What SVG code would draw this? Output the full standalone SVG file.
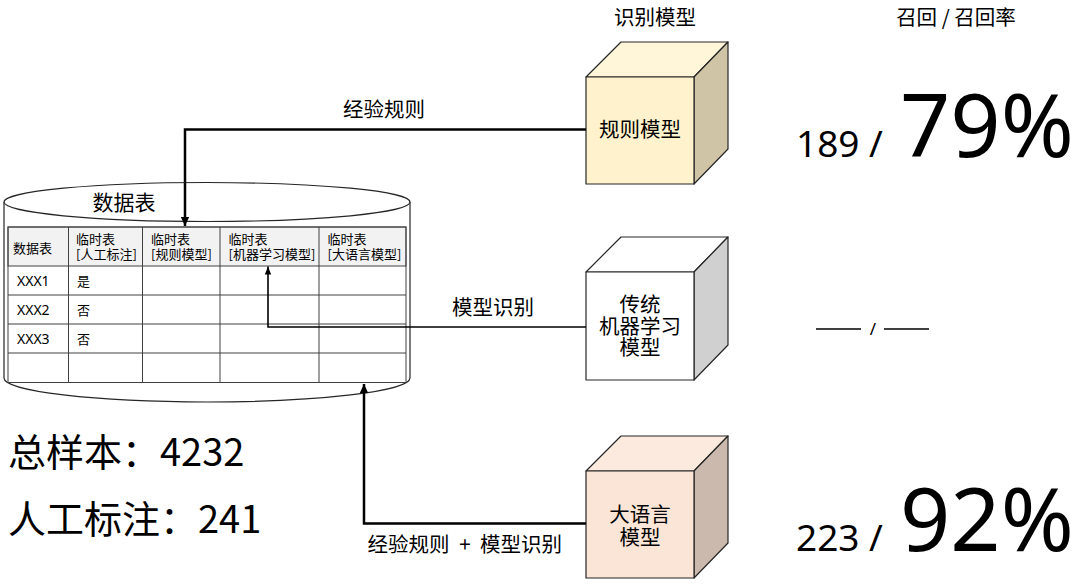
<svg xmlns="http://www.w3.org/2000/svg" width="1080" height="585" viewBox="0 0 1080 585">
<style>
text{font-family:"Noto Sans","Noto Sans CJK SC",sans-serif;fill:#000}
.cjk{font-family:"Noto Sans CJK SC","Noto Sans",sans-serif}
.cell{fill:none;stroke:#404040;stroke-width:1}
.hdr{fill:#F2F2F2;stroke:#404040;stroke-width:1}
.t13{font-size:13px}
.tx{font-size:14px}
.cube{stroke:#262626;stroke-width:1.2;stroke-linejoin:round}
.conn{fill:none;stroke:#000}
.lbl{font-size:20.5px;text-anchor:middle}
.clbl{font-size:20.5px;text-anchor:middle}
</style>
<defs>
<marker id="ah" markerUnits="userSpaceOnUse" markerWidth="10" markerHeight="10" refX="9" refY="5" orient="auto">
<path d="M0,0.8 L9,5 L0,9.2 Z" fill="#000"/>
</marker>
<marker id="ahs" markerUnits="userSpaceOnUse" markerWidth="10" markerHeight="10" refX="8" refY="4" orient="auto">
<path d="M0,0.8 L8,4 L0,7.2 Z" fill="#000"/>
</marker>
</defs>
<rect width="1080" height="585" fill="#fff"/>

<g id="titles">
<text class="lbl cjk" x="655" y="25">识别模型</text>
<text class="lbl cjk" x="956" y="25">召回 / 召回率</text>
</g>

<g id="datatable">
<path d="M4,202 V378 A203,24 0 0 0 410,378 V202" fill="#fff" stroke="#262626" stroke-width="1.2"/>
<ellipse cx="207" cy="202" rx="203" ry="19.5" fill="#fff" stroke="#262626" stroke-width="1.2"/>
<text class="cjk" x="124" y="210" font-size="21" text-anchor="middle">数据表</text>
<rect class="hdr" x="8" y="227" width="398" height="39"/>
<rect class="cell" x="8" y="227" width="398" height="155.5"/>
<line class="cell" x1="8" y1="295" x2="406" y2="295"/>
<line class="cell" x1="8" y1="324" x2="406" y2="324"/>
<line class="cell" x1="8" y1="353" x2="406" y2="353"/>
<line class="cell" x1="68.5" y1="227" x2="68.5" y2="382.5"/>
<line class="cell" x1="142.5" y1="227" x2="142.5" y2="382.5"/>
<line class="cell" x1="220" y1="227" x2="220" y2="382.5"/>
<line class="cell" x1="319" y1="227" x2="319" y2="382.5"/>
<g>
<text class="cjk t13" x="13" y="252.5">数据表</text>
<text class="cjk t13" x="76" y="243.5">临时表</text>
<text class="cjk t13" x="76" y="259">[人工标注]</text>
<text class="cjk t13" x="151" y="243.5">临时表</text>
<text class="cjk t13" x="151" y="259">[规则模型]</text>
<text class="cjk t13" x="228.5" y="243.5">临时表</text>
<text class="cjk t13" x="228.5" y="259">[机器学习模型]</text>
<text class="cjk t13" x="327.5" y="243.5">临时表</text>
<text class="cjk t13" x="327.5" y="259">[大语言模型]</text>
<text class="tx" x="17" y="286">XXX1</text>
<text class="tx" x="17" y="315">XXX2</text>
<text class="tx" x="17" y="344">XXX3</text>
<text class="cjk t13" x="77" y="285.5">是</text>
<text class="cjk t13" x="77" y="314.5">否</text>
<text class="cjk t13" x="77" y="343.5">否</text>
</g>
</g>

<g id="cube-rule">
<path class="cube" d="M586,77 L621,42 H728 L694,77 Z" fill="#FFF5D9"/>
<path class="cube" d="M694,77 L728,42 V149 L694,184 Z" fill="#CFC4A5"/>
<rect class="cube" x="586" y="77" width="108" height="107" fill="#FFF2CC"/>
<text class="clbl cjk" x="640" y="137">规则模型</text>
</g>

<g id="cube-ml">
<path class="cube" d="M586,272 L621,237 H728 L694,272 Z" fill="#FFFFFF"/>
<path class="cube" d="M694,272 L728,237 V345 L694,380 Z" fill="#D0D0D0"/>
<rect class="cube" x="586" y="272" width="108" height="108" fill="#FFFFFF"/>
<text class="clbl cjk" x="640" y="312">传统</text>
<text class="clbl cjk" x="640" y="333.5">机器学习</text>
<text class="clbl cjk" x="640" y="355">模型</text>
</g>

<g id="cube-llm">
<path class="cube" d="M586,471 L621,436 H728 L694,471 Z" fill="#FCEADF"/>
<path class="cube" d="M694,471 L728,436 V543 L694,578 Z" fill="#CBB9AD"/>
<rect class="cube" x="586" y="471" width="108" height="107" fill="#FBE5D6"/>
<text class="clbl cjk" x="640" y="522">大语言</text>
<text class="clbl cjk" x="640" y="545">模型</text>
</g>

<g id="connectors">
<path class="conn" d="M586,129.5 H185 V226" stroke-width="2.5" marker-end="url(#ah)"/>
<path class="conn" d="M586,327 H268 V266.5" stroke-width="1.6" marker-end="url(#ahs)"/>
<path class="conn" d="M586,523.5 H364 V384" stroke-width="2.5" marker-end="url(#ah)"/>
<text class="lbl cjk" x="384" y="117">经验规则</text>
<text class="lbl cjk" x="493" y="315">模型识别</text>
<text class="lbl cjk" y="552"><tspan x="408.5">经验规则</tspan><tspan x="465">+</tspan><tspan x="521">模型识别</tspan></text>
</g>

<g id="stats">
<text x="796" y="157" font-size="37">189 /</text>
<text x="900" y="157" font-size="88">79%</text>
<text x="796" y="551" font-size="37">223 /</text>
<text x="900" y="551" font-size="88">92%</text>
<line x1="816" y1="329" x2="861" y2="329" stroke="#000" stroke-width="1.5"/>
<text x="873" y="335" font-size="17" text-anchor="middle">/</text>
<line x1="884" y1="329" x2="929" y2="329" stroke="#000" stroke-width="1.5"/>
<text class="cjk" x="8" y="466" font-size="38">总样本：4232</text>
<text class="cjk" x="8" y="533" font-size="38">人工标注：241</text>
</g>
</svg>
